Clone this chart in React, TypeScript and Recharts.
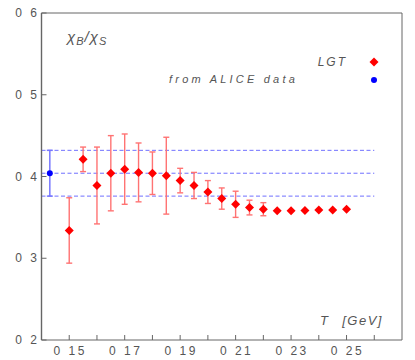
import React from 'react';
import { ScatterChart, Scatter, XAxis, YAxis, ErrorBar, ReferenceLine } from 'recharts';

// lattice results, chi_B / chi_S vs T
const temps = [0.15, 0.155, 0.16, 0.165, 0.17, 0.175, 0.18, 0.185, 0.19, 0.195, 0.2, 0.205, 0.21, 0.215, 0.22, 0.225, 0.23, 0.235, 0.24, 0.245, 0.25];
const ratio = [0.334, 0.421, 0.389, 0.404, 0.409, 0.405, 0.404, 0.401, 0.395, 0.389, 0.381, 0.373, 0.366, 0.362, 0.36, 0.358, 0.358, 0.3585, 0.359, 0.359, 0.36];
const ratioErr = [0.04, 0.015, 0.047, 0.046, 0.043, 0.036, 0.026, 0.047, 0.015, 0.016, 0.014, 0.013, 0.016, 0.009, 0.008, 0, 0, 0, 0, 0, 0];

// ALICE point
const aliceT = [0.143];
const aliceRatio = [0.404];
const aliceErr = [0.028];

const xTicks = [0.15, 0.16, 0.17, 0.18, 0.19, 0.2, 0.21, 0.22, 0.23, 0.24, 0.25, 0.26];
const xLabels = [0.15, 0.17, 0.19, 0.21, 0.23, 0.25];
const yTicks = [0.2, 0.3, 0.4, 0.5, 0.6];

const lgtRows = temps.map((t, i) => ({ t, r: ratio[i], e: ratioErr[i] }));
const aliceRows = aliceT.map((t, i) => ({ t, r: aliceRatio[i], e: aliceErr[i] }));
const band = [aliceRatio[0] + aliceErr[0], aliceRatio[0], aliceRatio[0] - aliceErr[0]];

const axisColor = '#666';
const textColor = '#555';
const font = '"Liberation Sans", Arial, sans-serif';

const fmt = (v: number) => v.toFixed(Math.abs(v * 10 - Math.round(v * 10)) < 1e-6 ? 1 : 2).replace('.', ' ');
const isLabel = (v: number) => xLabels.some((l) => Math.abs(l - v) < 1e-6);

const BottomTick = (props: any) => {
  const { x, y, payload } = props;
  return (
    <g>
      <line x1={x} y1={y} x2={x} y2={y - 5} stroke={axisColor} />
      {isLabel(payload.value) && (
        <text x={x + 1} y={y + 15} textAnchor="middle" fontSize={12} letterSpacing={2.5} fill={textColor} fontFamily={font}>
          {fmt(payload.value)}
        </text>
      )}
    </g>
  );
};

const TopTick = (props: any) => {
  const { x, y } = props;
  return <line x1={x} y1={y} x2={x} y2={y + 5} stroke={axisColor} />;
};

const LeftTick = (props: any) => {
  const { x, y, payload } = props;
  return (
    <g>
      <line x1={x} y1={y} x2={x + 5} y2={y} stroke={axisColor} />
      <text x={x - 2} y={y + 4} textAnchor="end" fontSize={12} letterSpacing={2.5} fill={textColor} fontFamily={font}>
        {fmt(payload.value)}
      </text>
    </g>
  );
};

const RightTick = (props: any) => {
  const { x, y } = props;
  return <line x1={x} y1={y} x2={x - 5} y2={y} stroke={axisColor} />;
};

const Diamond = (p: any) => {
  const { cx, cy } = p;
  const s = 4.5;
  return <path d={`M${cx},${cy - s}L${cx + s},${cy}L${cx},${cy + s}L${cx - s},${cy}Z`} fill="#ff0000" />;
};

const Dot = (p: any) => <circle cx={p.cx} cy={p.cy} r={3} fill="#0000ff" />;

export default function App() {
  return (
    <div style={{ position: 'absolute', left: 0, top: 0, width: 415, height: 360, background: '#fff' }}>
      <ScatterChart width={415} height={360} margin={{ top: 12, right: 12, bottom: 19, left: 40.5 }}>
        <XAxis xAxisId="b" dataKey="t" type="number" domain={[0.14, 0.27]} ticks={xTicks} height={1}
          tickSize={0} tickMargin={0} tickLine={false} tick={BottomTick} stroke={axisColor} interval={0} />
        <XAxis xAxisId="t" orientation="top" type="number" domain={[0.14, 0.27]} ticks={xTicks} height={1}
          tickSize={0} tickMargin={0} tickLine={false} tick={TopTick} stroke={axisColor} interval={0} />
        <YAxis yAxisId="l" dataKey="r" type="number" domain={[0.2, 0.6]} ticks={yTicks} width={1}
          tickSize={0} tickMargin={0} tickLine={false} tick={LeftTick} stroke={axisColor} strokeWidth={1.4} interval={0} />
        <YAxis yAxisId="r" orientation="right" type="number" domain={[0.2, 0.6]} ticks={yTicks} width={1}
          tickSize={0} tickMargin={0} tickLine={false} tick={RightTick} stroke={axisColor} interval={0} />
        {band.map((v) => (
          <ReferenceLine key={v} xAxisId="b" yAxisId="l" stroke="#7070ff" strokeDasharray="4 2.5"
            segment={[{ x: 0.14, y: v }, { x: 0.26, y: v }]} />
        ))}
        <Scatter xAxisId="b" yAxisId="l" data={aliceRows} dataKey="r" shape={Dot} isAnimationActive={false}>
          <ErrorBar dataKey="e" direction="y" width={3} stroke="#7777ff" strokeWidth={1.5} />
        </Scatter>
        <Scatter xAxisId="b" yAxisId="l" data={lgtRows} dataKey="r" shape={Diamond} isAnimationActive={false}>
          <ErrorBar dataKey="e" direction="y" width={3} stroke="#ff7373" strokeWidth={1.4} />
        </Scatter>
      </ScatterChart>
      <svg width={415} height={360} style={{ position: 'absolute', left: 0, top: 0, pointerEvents: 'none' }}>
        <text x={67} y={42} fontSize={15} fontStyle="italic" letterSpacing={1} fill={textColor} fontFamily={font}>
          χ<tspan fontSize={11} dy={3}>B</tspan><tspan dy={-3}>/χ</tspan><tspan fontSize={11} dy={3}>S</tspan>
        </text>
        <text x={347} y={66} textAnchor="end" fontSize={12} fontStyle="italic" letterSpacing={2} fill={textColor} fontFamily={font}>LGT</text>
        <path d="M374,57.5L378.5,62L374,66.5L369.5,62Z" fill="#ff0000" />
        <text x={298} y={83} textAnchor="end" fontSize={11} fontStyle="italic" letterSpacing={3.2} fill={textColor} fontFamily={font}>from ALICE data</text>
        <circle cx={374} cy={80} r={3} fill="#0000ff" />
        <text x={320} y={325} fontSize={13} fontStyle="italic" fill={textColor} fontFamily={font}>T</text>
        <text x={383} y={325} textAnchor="end" fontSize={13} fontStyle="italic" letterSpacing={1.5} fill={textColor} fontFamily={font}>[GeV]</text>
      </svg>
    </div>
  );
}
